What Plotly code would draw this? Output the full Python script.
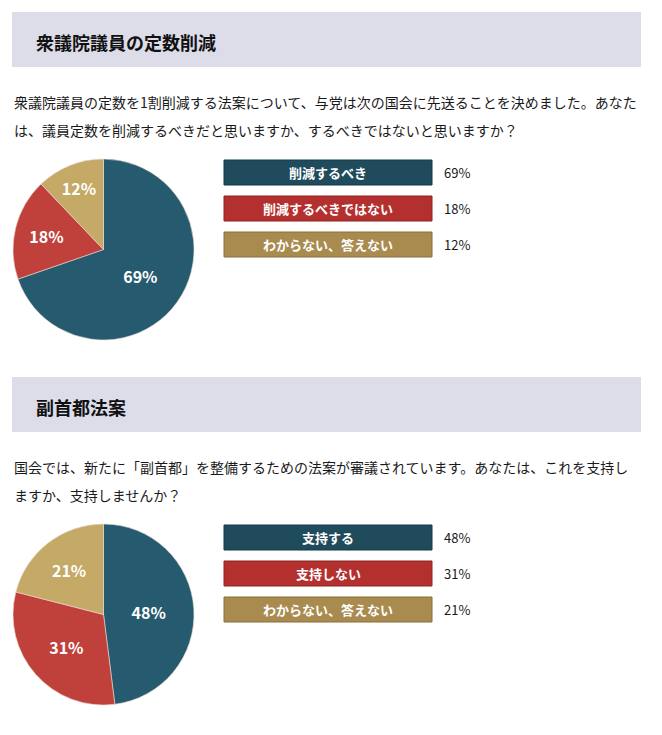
import plotly.graph_objects as go

W, H = 662, 735

# ---- data ----
titles = ["衆議院議員の定数削減", "副首都法案"]
questions = [
    ["衆議院議員の定数を1割削減する法案について、与党は次の国会に先送ることを決めました。あなた",
     "は、議員定数を削減するべきだと思いますか、するべきではないと思いますか？"],
    ["国会では、新たに「副首都」を整備するための法案が審議されています。あなたは、これを支持し",
     "ますか、支持しませんか？"],
]
labels1 = ["削減するべき", "削減するべきではない", "わからない、答えない"]
values1 = [69, 18, 12]
labels2 = ["支持する", "支持しない", "わからない、答えない"]
values2 = [48, 31, 21]

pie_colors = ["#265b6f", "#c0413b", "#c5a966"]
box_colors = ["#1f4b5c", "#b3302e", "#a98b4f"]
box_lines = ["#173a48", "#8e2220", "#8a6f3a"]

FONT = "Noto Sans CJK JP"


def px(x):
    return x / W


def py(y):
    return 1 - y / H


fig = go.Figure()
shapes = []
annotations = []

sections = [
    dict(top=12, labels=labels1, values=values1),
    dict(top=377, labels=labels2, values=values2),
]

for i, sec in enumerate(sections):
    t = sec["top"]
    # header band
    shapes.append(dict(type="rect", xref="paper", yref="paper",
                       x0=px(12), x1=px(641), y0=py(t), y1=py(t + 55),
                       fillcolor="#dddde9", line=dict(width=0), layer="below"))
    annotations.append(dict(text="<b>%s</b>" % titles[i], xref="paper", yref="paper",
                            x=px(34), y=py(t + 30), xanchor="left", yanchor="middle",
                            showarrow=False, font=dict(family=FONT, size=18, color="#111")))
    # question lines
    for j, line in enumerate(questions[i]):
        annotations.append(dict(text=line, xref="paper", yref="paper",
                                x=px(12), y=py(t + 90 + 28 * j), xanchor="left", yanchor="middle",
                                showarrow=False, font=dict(family=FONT, size=14, color="#1a1a1a")))
    # pie
    ptop = t + 147
    fig.add_trace(go.Pie(
        labels=sec["labels"], values=sec["values"], sort=False, direction="clockwise",
        rotation=0,
        marker=dict(colors=pie_colors, line=dict(color="#e8d8d0", width=0.6)),
        texttemplate="<b>%{value}%</b>", textposition="inside",
        insidetextfont=dict(family=FONT, size=16, color="white"),
        insidetextorientation="horizontal",
        hoverinfo="skip", showlegend=False,
        domain=dict(x=[px(13), px(194)], y=[py(ptop + 181), py(ptop)]),
    ))
    # legend boxes
    for k, (lab, val) in enumerate(zip(sec["labels"], sec["values"])):
        by = ptop + 1 + 36 * k
        shapes.append(dict(type="rect", xref="paper", yref="paper",
                           x0=px(224), x1=px(432), y0=py(by + 25), y1=py(by),
                           fillcolor=box_colors[k], line=dict(color=box_lines[k], width=1)))
        annotations.append(dict(text="<b>%s</b>" % lab, xref="paper", yref="paper",
                                x=px(328), y=py(by + 12.5), xanchor="center", yanchor="middle",
                                showarrow=False, font=dict(family=FONT, size=13, color="white")))
        annotations.append(dict(text="%d%%" % val, xref="paper", yref="paper",
                                x=px(442), y=py(by + 12.5), xanchor="left", yanchor="middle",
                                showarrow=False, font=dict(family=FONT, size=13, color="#1a1a1a")))

fig.update_layout(
    width=W, height=H, margin=dict(l=0, r=0, t=0, b=0),
    paper_bgcolor="white", plot_bgcolor="white",
    shapes=shapes, annotations=annotations,
    font=dict(family=FONT),
)

fig.write_html("out.html")
